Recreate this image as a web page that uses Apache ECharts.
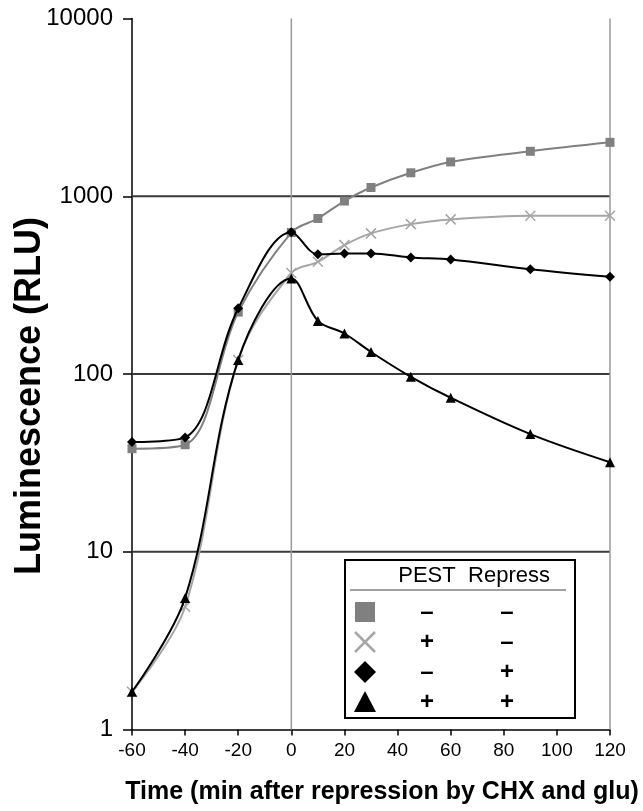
<!DOCTYPE html>
<html>
<head>
<meta charset="utf-8">
<script src="https://cdn.jsdelivr.net/npm/echarts@6/dist/echarts.min.js"></script>
<style>
  html, body { margin: 0; padding: 0; background: #fff; }
  #chart { width: 643px; height: 811px; }
</style>
</head>
<body>
<div id="chart"></div>
<script>
// Sampling times (min after repression by CHX and glucose)
const times = [-60, -40, -20, 0, 10, 20, 30, 45, 60, 90, 120];

// Luminescence (RLU) for each reporter / condition
const pestMinusRepressMinus = [38, 40, 223, 625, 750, 940, 1120, 1355, 1560, 1790, 2010];
const pestPlusRepressMinus  = [1.63, 4.9, 120, 370, 428, 531, 618, 697, 741, 776, 776];
const pestMinusRepressPlus  = [41.4, 44, 234, 628, 471, 477, 477, 453, 441, 389, 352];
const pestPlusRepressPlus   = [1.63, 5.5, 120, 345, 199, 169, 133, 96.4, 73.5, 45.9, 31.9];

// Axis ticks
const xTicks = [-60, -40, -20, 0, 20, 40, 60, 80, 100, 120];
const yTicks = [1, 10, 100, 1000, 10000];
const yGridValues = [10, 100, 1000];
const xFrameValues = [0, 120];

const pairs = vals => times.map((t, i) => [t, vals[i]]);

const crossPath = 'path://M0,0L10,10M10,0L0,10';

const chart = echarts.init(document.getElementById('chart'), null, { renderer: 'canvas' });

const FONT = 'Liberation Sans, Arial, sans-serif';

// Legend table drawn as a framed block in the lower right of the plot
const legendX = 345, legendY = 560, legendW = 230, legendH = 158;
const rowY = [612, 642, 672, 702];
const colSym = 365, colPest = 427, colRep = 507;
const signs = [['–', '–'], ['+', '–'], ['–', '+'], ['+', '+']];

const legendGraphics = [
  { type: 'rect', shape: { x: legendX, y: legendY, width: legendW, height: legendH },
    style: { fill: '#fff', stroke: '#000', lineWidth: 2 }, z: 100 },
  { type: 'text', x: colPest, y: 576, style: { text: 'PEST', font: '22px ' + FONT, fill: '#000',
    textAlign: 'center', textVerticalAlign: 'middle' }, z: 101 },
  { type: 'text', x: colRep + 2, y: 576, style: { text: 'Repress', font: '22px ' + FONT, fill: '#000',
    textAlign: 'center', textVerticalAlign: 'middle' }, z: 101 },
  { type: 'line', shape: { x1: 350, y1: 590, x2: 566, y2: 590 },
    style: { stroke: '#808080', lineWidth: 1.5 }, z: 101 },
  // symbols
  { type: 'rect', shape: { x: colSym - 10, y: rowY[0] - 10, width: 20, height: 20 },
    style: { fill: '#808080' }, z: 101 },
  { type: 'line', shape: { x1: colSym - 10, y1: rowY[1] - 10, x2: colSym + 10, y2: rowY[1] + 10 },
    style: { stroke: '#a6a6a6', lineWidth: 2.5 }, z: 101 },
  { type: 'line', shape: { x1: colSym + 10, y1: rowY[1] - 10, x2: colSym - 10, y2: rowY[1] + 10 },
    style: { stroke: '#a6a6a6', lineWidth: 2.5 }, z: 101 },
  { type: 'polygon', shape: { points: [[colSym, rowY[2] - 11], [colSym + 11, rowY[2]], [colSym, rowY[2] + 11], [colSym - 11, rowY[2]]] },
    style: { fill: '#000' }, z: 101 },
  { type: 'polygon', shape: { points: [[colSym, rowY[3] - 11], [colSym + 11, rowY[3] + 10], [colSym - 11, rowY[3] + 10]] },
    style: { fill: '#000' }, z: 101 }
];
signs.forEach((s, i) => {
  legendGraphics.push({ type: 'text', x: colPest, y: rowY[i], style: { text: s[0], font: 'bold 24px ' + FONT,
    fill: '#000', textAlign: 'center', textVerticalAlign: 'middle' }, z: 101 });
  legendGraphics.push({ type: 'text', x: colRep, y: rowY[i], style: { text: s[1], font: 'bold 24px ' + FONT,
    fill: '#000', textAlign: 'center', textVerticalAlign: 'middle' }, z: 101 });
});

const SMOOTH = 0.35;

// Straight reference lines drawn through the axes' own scales
const frameSeries = [
  ...yGridValues.map(v => ({
    type: 'line', data: [[-60, v], [120, v]], symbol: 'none', silent: true, z: 1,
    lineStyle: { color: '#3a3a3a', width: 2 }
  })),
  ...xFrameValues.map(v => ({
    type: 'line', data: [[v, 1], [v, 10000]], symbol: 'none', silent: true, z: 1,
    lineStyle: { color: '#9a9a9a', width: 1.5 }
  }))
];

chart.setOption({
  animation: false,
  backgroundColor: '#fff',
  grid: { left: 132, right: 33, top: 18.5, bottom: 81.5, containLabel: false, outerBoundsMode: 'none' },
  xAxis: {
    type: 'value', min: -60, max: 120, interval: 20,
    name: 'Time (min after repression by CHX and glu)',
    nameLocation: 'middle', nameGap: 50,
    nameTextStyle: { fontFamily: FONT, fontWeight: 'bold', fontSize: 25, color: '#000', padding: [0, 0, 0, 22] },
    axisLine: { onZero: false, lineStyle: { color: '#000', width: 1.5 } },
    axisTick: { show: true, length: 6, inside: false, lineStyle: { color: '#000', width: 1.5 } },
    axisLabel: { fontFamily: FONT, fontSize: 19, color: '#000', margin: 12,
      formatter: v => (xTicks.includes(v) ? String(v) : '') },
    splitLine: { show: false }
  },
  yAxis: {
    type: 'log', logBase: 10, min: 1, max: 10000,
    name: 'Luminescence (RLU)',
    nameLocation: 'middle', nameGap: 84, nameMoveOverlap: false,
    nameTextStyle: { fontFamily: FONT, fontWeight: 'bold', fontSize: 36, color: '#000', padding: [0, 44, 0, 0] },
    axisLine: { onZero: false, lineStyle: { color: '#000', width: 1.5 } },
    axisTick: { show: true, length: 9, lineStyle: { color: '#000', width: 1.5 } },
    axisLabel: { fontFamily: FONT, fontSize: 24, color: '#000', margin: 19,
      formatter: v => (yTicks.includes(Math.round(v)) ? String(Math.round(v)) : '') },
    splitLine: { show: false },
    minorTick: { show: false }
  },
  graphic: legendGraphics,
  series: [
    ...frameSeries,
    {
      name: 'PEST- Repress-', type: 'line', data: pairs(pestMinusRepressMinus), smooth: SMOOTH, z: 2,
      symbol: 'rect', symbolSize: 9,
      lineStyle: { color: '#808080', width: 2 },
      itemStyle: { color: '#808080' }
    },
    {
      name: 'PEST+ Repress-', type: 'line', data: pairs(pestPlusRepressMinus), smooth: SMOOTH, z: 3,
      symbol: crossPath, symbolSize: 10,
      lineStyle: { color: '#a6a6a6', width: 2 },
      itemStyle: { color: 'none', borderColor: '#a6a6a6', borderWidth: 1.5 }
    },
    {
      name: 'PEST- Repress+', type: 'line', data: pairs(pestMinusRepressPlus), smooth: SMOOTH, z: 4,
      symbol: 'diamond', symbolSize: 10,
      lineStyle: { color: '#000', width: 2 },
      itemStyle: { color: '#000' }
    },
    {
      name: 'PEST+ Repress+', type: 'line', data: pairs(pestPlusRepressPlus), smooth: SMOOTH, z: 5,
      symbol: 'triangle', symbolSize: 10,
      lineStyle: { color: '#000', width: 2 },
      itemStyle: { color: '#000' }
    }
  ]
});
</script>
</body>
</html>
